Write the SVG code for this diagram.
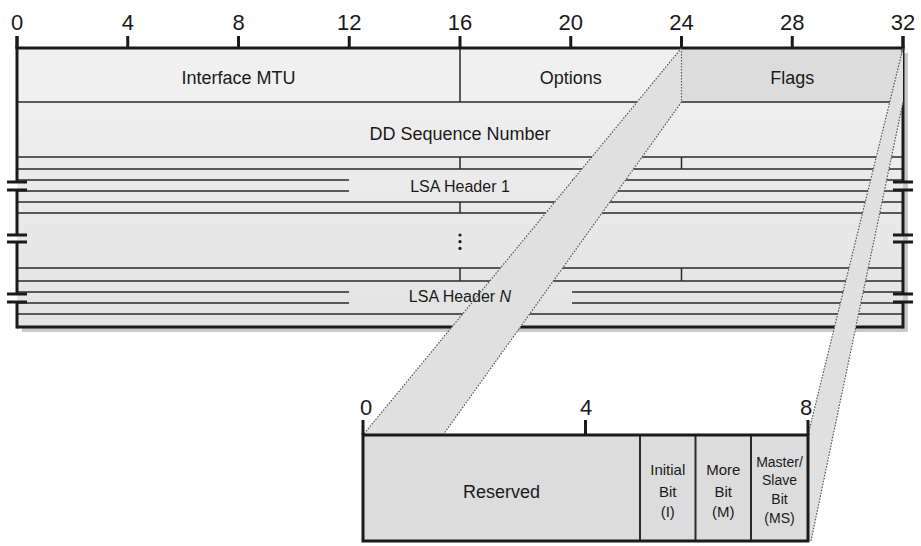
<svg xmlns="http://www.w3.org/2000/svg" width="921" height="546" viewBox="0 0 921 546">
<style>
text{font-family:"Liberation Sans",Arial,sans-serif;fill:#1a1a1a;text-anchor:middle}
.num{font-size:22px}
.lbl{font-size:18px}
.sm{font-size:16px}
.bit{font-size:15px}
.ms{font-size:14px}
.thick{stroke:#1a1a1a;stroke-width:3;fill:none}
.thin{stroke:#2a2a2a;stroke-width:1.5;fill:none}
.mid{stroke:#2a2a2a;stroke-width:2;fill:none}
.dot{stroke:#555;stroke-width:1.2;stroke-dasharray:1.5 1.5;fill:none}
.band{fill:#e0e0e0;stroke:none}
</style>
<defs>
<linearGradient id="g" x1="0" y1="0" x2="0" y2="1">
<stop offset="0" stop-color="#f1f1f1"/>
<stop offset="1" stop-color="#e3e3e3"/>
</linearGradient>
</defs>
<rect width="921" height="546" fill="#fff"/>

<g id="ruler">
<path class="thick" d="M17,36V48M127.75,36V48M238.5,36V48M349.25,36V48M460,36V48M570.75,36V48M681.5,36V48M792.25,36V48M903,36V48"/>
<text class="num" x="17" y="30">0</text>
<text class="num" x="127.75" y="30">4</text>
<text class="num" x="238.5" y="30">8</text>
<text class="num" x="349.25" y="30">12</text>
<text class="num" x="460" y="30">16</text>
<text class="num" x="570.75" y="30">20</text>
<text class="num" x="681.5" y="30">24</text>
<text class="num" x="792.25" y="30">28</text>
<text class="num" x="903" y="30">32</text>
</g>

<g id="frame">
<rect x="22" y="53" width="886" height="279" fill="#c9c9c9"/>
<rect x="17" y="48" width="886" height="279" fill="url(#g)"/>
<rect x="17" y="48" width="443" height="54" fill="#f0f0f0"/>
<rect x="460" y="48" width="221.5" height="54" fill="#f0f0f0"/>
<rect x="681.5" y="48" width="221.5" height="54" fill="#dcdcdc"/>
</g>

<g id="grid">
<path class="thin" d="M460,48V102M17,102H903M17,157H903M17,169H903M17,202H903M17,213H903M17,268H903M17,281H903M17,314H903"/>
<path class="thin" d="M17,180H349M17,191H349M572,180H903M572,191H903M17,292H349M17,303H349M572,292H903M572,303H903"/>
<path class="thin" d="M460,157V169M460,202V213M460,268V281M681.5,157V169M681.5,268V281"/>
<path class="thick" d="M15.5,48H904.5M17,327H903"/>
<path class="thick" d="M17,36V182M17,190V235M17,242V294M17,302V328.5M903,36V182M903,190V235M903,242V294M903,302V328.5"/>
<path class="thick" d="M7,182H27M7,190H27M7,235H27M7,242H27M7,294H27M7,302H27M893,182H913M893,190H913M893,235H913M893,242H913M893,294H913M893,302H913"/>
</g>

<g id="connectors">
<polygon class="band" points="681.5,48 363,435 443,435 681.5,102"/>
<polygon class="band" points="903,48 808,435 808,541 811,541 903,102"/>
<path class="dot" d="M681.5,48L363,435M681.5,102L443,435M681.5,48V102M903,48L808,435M903,102L811,541"/>
</g>

<g id="interface-mtu">
<text class="lbl" x="238.5" y="84">Interface MTU</text>
</g>
<g id="options">
<text class="lbl" x="570.75" y="84">Options</text>
</g>
<g id="flags">
<text class="lbl" x="792.25" y="84">Flags</text>
</g>
<g id="dd-sequence-number">
<text class="lbl" x="460" y="140">DD Sequence Number</text>
</g>
<g id="lsa-header-1">
<text class="sm" x="460" y="192">LSA Header 1</text>
</g>
<g id="ellipsis">
<circle cx="460" cy="235" r="1.6" fill="#1a1a1a"/>
<circle cx="460" cy="241.7" r="1.6" fill="#1a1a1a"/>
<circle cx="460" cy="248.4" r="1.6" fill="#1a1a1a"/>
</g>
<g id="lsa-header-n">
<text class="sm" x="460" y="302">LSA Header <tspan font-style="italic">N</tspan></text>
</g>

<g id="flags-detail">
<rect x="363" y="435" width="445" height="106" fill="#dcdcdc"/>
<path class="mid" d="M640,435V541M695.5,435V541M751,435V541"/>
<rect x="363" y="435" width="445" height="106" class="thick"/>
<path class="thick" d="M363,420V435M585.5,420V435M808,420V435"/>
<text class="num" x="366" y="415">0</text>
<text class="num" x="586" y="415">4</text>
<text class="num" x="806" y="415">8</text>
</g>
<g id="reserved">
<text class="lbl" x="501.5" y="498">Reserved</text>
</g>
<g id="initial-bit">
<text class="bit" x="667.75" y="475">Initial</text>
<text class="bit" x="667.75" y="497">Bit</text>
<text class="bit" x="667.75" y="517">(I)</text>
</g>
<g id="more-bit">
<text class="bit" x="723.25" y="475">More</text>
<text class="bit" x="723.25" y="497">Bit</text>
<text class="bit" x="723.25" y="517">(M)</text>
</g>
<g id="master-slave-bit">
<text class="ms" x="779.5" y="467">Master/</text>
<text class="ms" x="779.5" y="485">Slave</text>
<text class="ms" x="779.5" y="504">Bit</text>
<text class="ms" x="779.5" y="523">(MS)</text>
</g>
</svg>
